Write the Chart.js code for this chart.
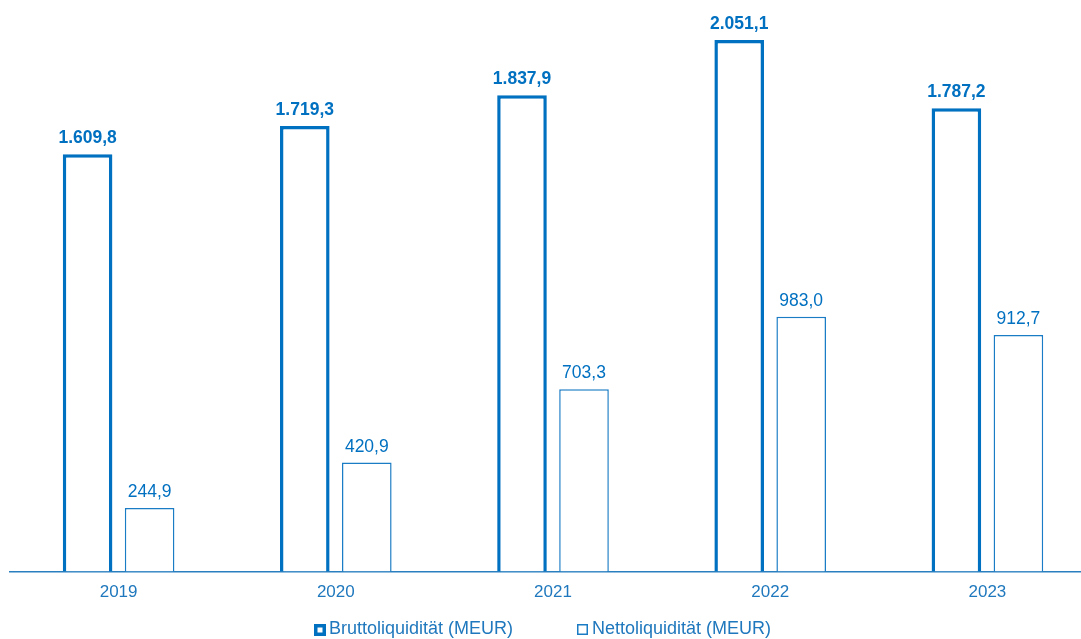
<!DOCTYPE html>
<html lang="de">
<head>
  <meta charset="UTF-8" />
  <title>Liquidität</title>
  <script src="https://cdn.jsdelivr.net/npm/chart.js"></script>
  <style>
    html, body { margin: 0; padding: 0; background: #fff; overflow: hidden; }
    #wrap { width: 1096px; height: 639px; }
  </style>
</head>
<body>
  <div id="wrap"><canvas id="liqChart"></canvas></div>

  <script>
    const years = ['2019', '2020', '2021', '2022', '2023'];
    const brutto = [1609.8, 1719.3, 1837.9, 2051.1, 1787.2];
    const netto = [244.9, 420.9, 703.3, 983.0, 912.7];

    const blue = '#0070c0';
    const textBlue = '#1f78bd';
    const fam = '"Liberation Sans", Arial, sans-serif';

    function fmt(v) {
      return v.toLocaleString('de-DE', { minimumFractionDigits: 1, maximumFractionDigits: 1 });
    }

    // Werte über den Balken
    const valueLabels = {
      id: 'valueLabels',
      afterDatasetsDraw(chart) {
        const ctx = chart.ctx;
        ctx.save();
        ctx.textAlign = 'center';
        ctx.textBaseline = 'bottom';
        chart.data.datasets.forEach((ds, di) => {
          const meta = chart.getDatasetMeta(di);
          ctx.font = (di === 0 ? 'bold ' : '') + '17.5px ' + fam;
          ctx.fillStyle = blue;
          meta.data.forEach((bar, i) => {
            ctx.fillText(fmt(ds.data[i]), bar.x, bar.y - 7);
          });
        });
        ctx.restore();
      }
    };

    // Legende unten, eng wie im Original
    const bottomLegend = {
      id: 'bottomLegend',
      afterDraw(chart) {
        const ctx = chart.ctx;
        const starts = [314, 577];
        const y = 629;
        ctx.save();
        ctx.font = '18px ' + fam;
        ctx.textBaseline = 'middle';
        ctx.fillStyle = textBlue;
        chart.data.datasets.forEach((ds, i) => {
          const x = starts[i];
          const bw = ds.borderWidth;
          const s = i === 0 ? 12 : 11;
          ctx.lineWidth = bw;
          ctx.strokeStyle = ds.borderColor;
          ctx.strokeRect(x + bw / 2, y - 5 + bw / 2, s - bw, s - bw);
          ctx.fillText(ds.label, x + 15, y);
        });
        ctx.restore();
      }
    };

    new Chart(document.getElementById('liqChart').getContext('2d'), {
      type: 'bar',
      data: {
        labels: years,
        datasets: [{
          label: 'Bruttoliquidität (MEUR)',
          data: brutto,
          backgroundColor: '#ffffff',
          borderColor: blue,
          borderWidth: 3.5,
          barPercentage: 0.8,
          categoryPercentage: 0.571
        }, {
          label: 'Nettoliquidität (MEUR)',
          data: netto,
          backgroundColor: '#ffffff',
          borderColor: '#1a7cc4',
          borderWidth: 1.5,
          barPercentage: 0.8,
          categoryPercentage: 0.571
        }]
      },
      options: {
        responsive: true,
        maintainAspectRatio: false,
        animation: false,
        layout: { padding: { left: 10, right: 0, top: 0, bottom: 33 } },
        plugins: {
          legend: { display: false },
          tooltip: { enabled: false }
        },
        scales: {
          x: {
            grid: { display: false },
            border: { color: '#2a7fbf', width: 1.5 },
            ticks: {
              color: textBlue,
              padding: 3,
              font: { size: 17, family: fam }
            }
          },
          y: {
            display: false,
            min: 0,
            max: 2205
          }
        }
      },
      plugins: [valueLabels, bottomLegend]
    });
  </script>
</body>
</html>
